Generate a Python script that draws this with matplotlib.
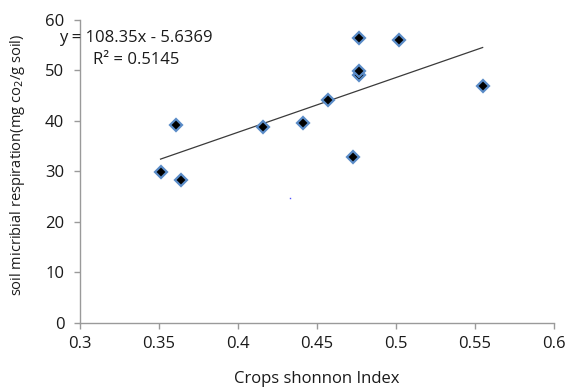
import numpy as np
import matplotlib
matplotlib.use("Agg")
import matplotlib.pyplot as plt

plt.rcParams.update({
    "font.family": ["Open Sans", "DejaVu Sans"],
    "font.size": 12,
})

# data
shannon = [0.351, 0.361, 0.364, 0.416, 0.441, 0.457, 0.473,
           0.477, 0.477, 0.477, 0.502, 0.555]
respiration = [29.9, 39.1, 28.2, 38.7, 39.6, 44.1, 32.8,
               49.0, 49.9, 56.3, 56.0, 46.9]

# stray dot in the original picture
stray_x = [0.4327]
stray_y = [24.75]

slope = 108.35
intercept = -5.6369
r2 = 0.5145

x_ticks = [0.3, 0.35, 0.4, 0.45, 0.5, 0.55, 0.6]
y_ticks = [0, 10, 20, 30, 40, 50, 60]

fig = plt.figure(figsize=(5.65, 3.88), dpi=100)
ax = fig.add_axes([0.1416, 0.1683, 0.8384, 0.7809])

# trendline over the data range
xs = np.array([min(shannon), max(shannon)])
ax.plot(xs, slope * xs + intercept, color="#3a3a3a", linewidth=0.9, zorder=2)

ax.plot(shannon, respiration, linestyle="none", marker="D", markersize=6.2,
        markerfacecolor="black", markeredgecolor="#5b8cc8", markeredgewidth=1.6,
        zorder=3)
ax.plot(stray_x, stray_y, linestyle="none", marker="s", markersize=1.0,
        markeredgewidth=0, color="#5050ff", zorder=3)

ax.set_xlim(0.3, 0.6)
ax.set_ylim(0, 60)
ax.set_xticks(x_ticks)
ax.set_xticklabels([f"{v:g}" for v in x_ticks])
ax.set_yticks(y_ticks)

for side in ["top", "right"]:
    ax.spines[side].set_visible(False)
for side in ["left", "bottom"]:
    ax.spines[side].set_color("#9a9a9a")
    ax.spines[side].set_linewidth(1.0)

ax.tick_params(axis="both", direction="out", length=4.3, width=1.0,
               color="#9a9a9a", labelcolor="#1a1a1a", labelsize=12)
ax.tick_params(axis="x", pad=5)
ax.tick_params(axis="y", pad=7)

ax.set_xlabel("Crops shonnon Index", fontsize=12, color="#1a1a1a")
ax.xaxis.set_label_coords(0.5, -0.158)
ax.set_ylabel("soil micribial respiration(mg co$_2$/g soil)", fontsize=10.5,
              color="#1a1a1a")
ax.yaxis.set_label_coords(-0.112, 0.52)

fig.text(136 / 565, 1 - 37.7 / 388, f"y = {slope}x - {abs(intercept)}",
         ha="center", va="center", fontsize=12, color="#1a1a1a")
fig.text(136 / 565, 1 - 60 / 388, f"R² = {r2}",
         ha="center", va="center", fontsize=12, color="#1a1a1a")

fig.savefig("out.png", dpi=100)
